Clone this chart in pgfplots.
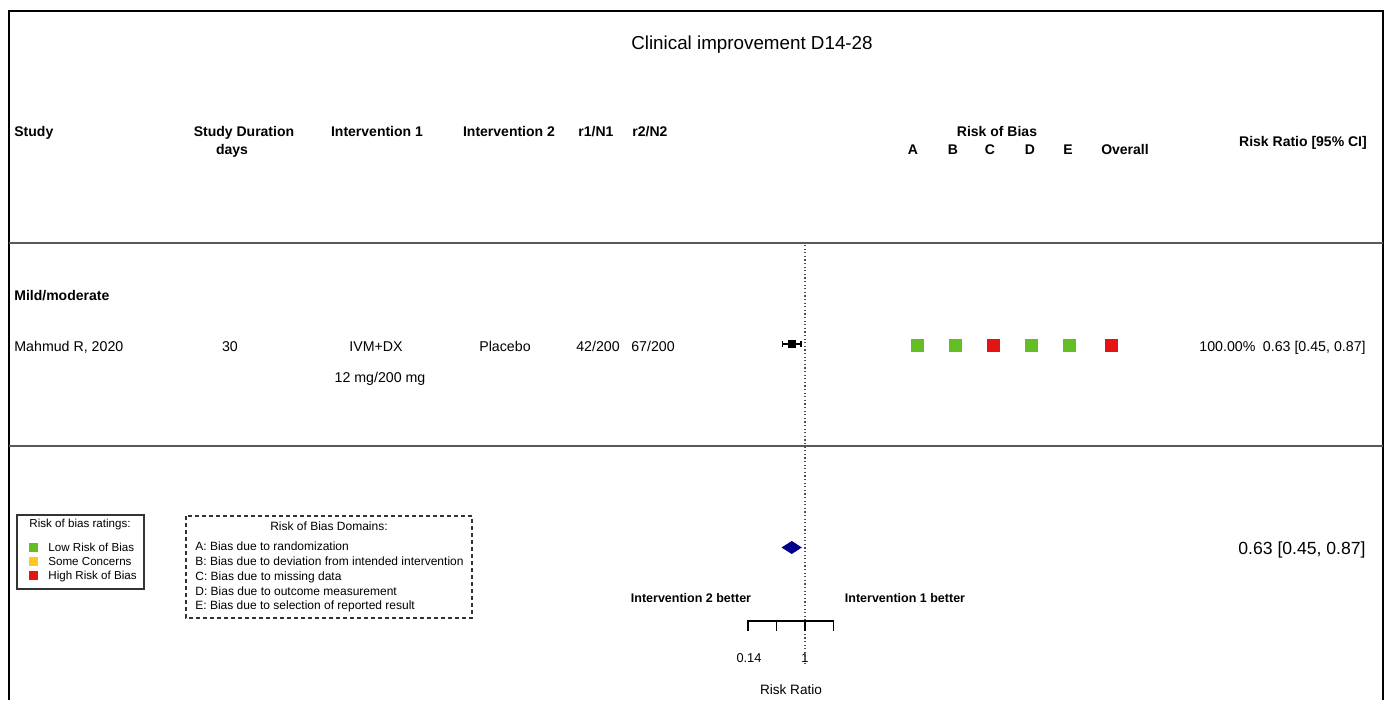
\documentclass[border=0pt]{standalone}
\usepackage{pgfplots}
\pgfplotsset{compat=1.18}
\usepackage{fontspec}
\setmainfont{Liberation Sans}
\definecolor{robgreen}{RGB}{99,190,37}
\definecolor{robred}{RGB}{228,20,20}
\definecolor{robyellow}{RGB}{255,200,30}
\definecolor{dnavy}{RGB}{0,0,139}
\newcommand{\fs}[1]{\fontsize{#1}{#1}\selectfont}
\begin{document}
\begin{tikzpicture}[every node/.style={inner sep=0pt, text height=0.716em, text depth=0pt}]
\pgfplotsset{frame/.style={scale only axis, width=694.5pt, height=350pt,
  xmin=0, xmax=1389, ymin=0, ymax=700, y dir=reverse, hide axis, clip=false,
  at={(0,0)}, anchor=south west}}
% ---------- main canvas (pixel coordinates) ----------
\begin{axis}[frame]
\path (axis cs:0,0) rectangle (axis cs:1389,700);
% frame
\draw[line width=1pt] (axis cs:9,700) -- (axis cs:9,11) -- (axis cs:1383,11) -- (axis cs:1383,700);
\draw[line width=0.8pt, black!65] (axis cs:9,243) -- (axis cs:1383,243);
\draw[line width=0.8pt, black!65] (axis cs:9,446) -- (axis cs:1383,446);
% title
\node[node font=\fs{9.4pt}] at (axis cs:752,43) {Clinical improvement D14-28};
% header
\begin{scope}[every node/.append style={node font=\fs{7pt}\bfseries}]
\node[anchor=west] at (axis cs:14,131) {Study};
\node at (axis cs:244,131) {Study Duration};
\node at (axis cs:232,149) {days};
\node at (axis cs:377,131) {Intervention 1};
\node at (axis cs:509,131) {Intervention 2};
\node at (axis cs:596,131) {r1/N1};
\node at (axis cs:650,131) {r2/N2};
\node at (axis cs:997,131) {Risk of Bias};
\node at (axis cs:913,149) {A};
\node at (axis cs:953,149) {B};
\node at (axis cs:990,149) {C};
\node at (axis cs:1030,149) {D};
\node at (axis cs:1068,149) {E};
\node at (axis cs:1125,149) {Overall};
\node at (axis cs:1303,141) {Risk Ratio [95\% CI]};
\node[anchor=west] at (axis cs:14,295) {Mild/moderate};
\end{scope}
% study row
\begin{scope}[every node/.append style={node font=\fs{7.1pt}}]
\node[anchor=west] at (axis cs:14,346) {Mahmud R, 2020};
\node at (axis cs:230,346) {30};
\node at (axis cs:376,346) {IVM+DX};
\node at (axis cs:380,377) {12 mg/200 mg};
\node at (axis cs:505,346) {Placebo};
\node at (axis cs:598,346) {42/200};
\node at (axis cs:653,346) {67/200};
\node[anchor=west] at (axis cs:1199,346) {100.00\%};
\node[anchor=east] at (axis cs:1366,346) {0.63 [0.45, 0.87]};
\end{scope}
\node[anchor=east, node font=\fs{8.8pt}] at (axis cs:1366,548) {0.63 [0.45, 0.87]};
% risk of bias squares
\addplot[only marks, mark=square*, mark size=3pt, color=robgreen]
  coordinates {(917,345) (955,345) (1031,345) (1069,345)};
\addplot[only marks, mark=square*, mark size=3pt, color=robred]
  coordinates {(993,345) (1111,345)};
% legend 1
\draw[line width=0.6pt, black!80] (axis cs:17,515) rectangle (axis cs:144,589);
\begin{scope}[every node/.append style={node font=\fs{5.8pt}}]
\node at (axis cs:80,523) {Risk of bias ratings:};
\node[anchor=west] at (axis cs:48,547) {Low Risk of Bias};
\node[anchor=west] at (axis cs:48,561) {Some Concerns};
\node[anchor=west] at (axis cs:48,575) {High Risk of Bias};
\end{scope}
\addplot[only marks, mark=square*, mark size=2pt, color=robgreen] coordinates {(33,547)};
\addplot[only marks, mark=square*, mark size=2pt, color=robyellow] coordinates {(33,561)};
\addplot[only marks, mark=square*, mark size=2pt, color=robred] coordinates {(33,575)};
% legend 2
\draw[line width=0.6pt, black!80, dash pattern=on 2pt off 1.5pt] (axis cs:186,516) rectangle (axis cs:472,618);
\begin{scope}[every node/.append style={node font=\fs{6pt}}]
\node at (axis cs:329,526) {Risk of Bias Domains:};
\node[anchor=west] at (axis cs:195,546) {A: Bias due to randomization};
\node[anchor=west] at (axis cs:195,561) {B: Bias due to deviation from intended intervention};
\node[anchor=west] at (axis cs:195,576) {C: Bias due to missing data};
\node[anchor=west] at (axis cs:195,591) {D: Bias due to outcome measurement};
\node[anchor=west] at (axis cs:195,605) {E: Bias due to selection of reported result};
\end{scope}
% forest axis labels
\node[node font=\fs{6.25pt}\bfseries] at (axis cs:691,598) {Intervention 2 better};
\node[node font=\fs{6.25pt}\bfseries] at (axis cs:905,598) {Intervention 1 better};
\node[node font=\fs{6.4pt}] at (axis cs:749,658) {0.14};
\node[node font=\fs{6.4pt}] at (axis cs:805,658) {1};
\node[node font=\fs{6.8pt}] at (axis cs:791,690) {Risk Ratio};
\end{axis}
% ---------- forest plot overlay (log risk ratio) ----------
\begin{axis}[frame, xmode=log, xmin=5.406e-13, xmax=7.928e8]
\addplot[black!70, line width=0.6pt, dash pattern=on 0.6pt off 1.2pt] coordinates {(1,245) (1,664)};
% study estimate
\addplot[black, line width=0.6pt, mark=|, mark size=1.5pt] coordinates {(0.45,344) (0.87,344)};
\addplot[only marks, mark=square*, mark size=1.8pt, black] coordinates {(0.63,344)};
% pooled diamond
\addplot[fill=dnavy, draw=dnavy] coordinates {(0.45,547.5) (0.63,541.5) (0.87,547.5) (0.63,553.5)} -- cycle;
% scale
\addplot[black, line width=0.6pt] coordinates {(0.1353,631) (0.1353,621) (2.7183,621) (2.7183,631)};
\addplot[black, line width=0.6pt] coordinates {(0.3679,621) (0.3679,631)};
\addplot[black, line width=0.6pt] coordinates {(1,621) (1,631)};
\end{axis}
\end{tikzpicture}
\end{document}
